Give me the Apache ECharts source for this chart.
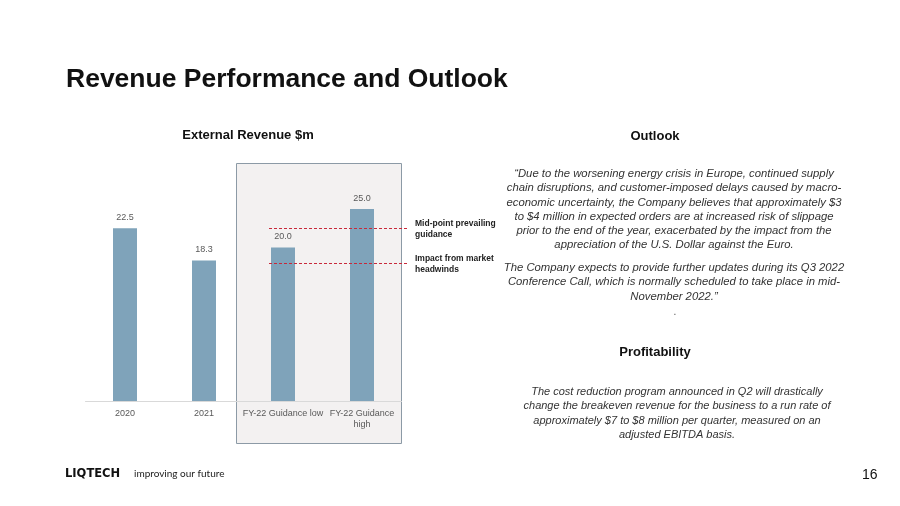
<!DOCTYPE html>
<html>
<head>
<meta charset="utf-8">
<script src="https://cdn.jsdelivr.net/npm/echarts@6/dist/echarts.min.js"></script>
<style>
  html, body { margin: 0; padding: 0; background: #fff; }
  #main { width: 900px; height: 506px; }
</style>
</head>
<body>
<div id="main"></div>
<script>
// chart data
var categories = ['2020', '2021', 'FY-22 Guidance low', 'FY-22 Guidance high']
var revenue = [22.5, 18.3, 20.0, 25.0]
// reference lines (midpoint guidance, after headwinds)
var refValues = [22.5, 18.0]
var refLabels = ['Mid-point prevailing\nguidance', 'Impact from market\nheadwinds']

var outlookText1 = [
  '\u201cDue to the worsening energy crisis in Europe, continued supply',
  'chain disruptions, and customer-imposed delays caused by macro-',
  'economic uncertainty, the Company believes that approximately $3',
  'to $4 million in expected orders are at increased risk of slippage',
  'prior to the end of the year, exacerbated by the impact from the',
  'appreciation of the U.S. Dollar against the Euro.'
]
var outlookText2 = [
  'The Company expects to provide further updates during its Q3 2022',
  'Conference Call, which is normally scheduled to take place in mid-',
  'November 2022.\u201d'
]
var profitText = [
  'The cost reduction program announced in Q2 will drastically',
  'change the breakeven revenue for the business to a run rate of',
  'approximately $7 to $8 million per quarter, measured on an',
  'adjusted EBITDA basis.'
]

var FONT = '"Liberation Sans", Arial, sans-serif'
var myChart = echarts.init(document.getElementById('main'))

var option = {
  backgroundColor: '#ffffff',
  animation: false,
  title: [
    {
      text: 'Revenue Performance and Outlook',
      left: 61, top: 61,
      textStyle: { fontFamily: FONT, fontSize: 26.5, fontWeight: 'bold', color: '#111' }
    }
  ],
  grid: { left: 85.5, right: 498.5, top: 170.6, bottom: 105 },
  xAxis: {
    type: 'category',
    data: categories,
    axisTick: { show: false },
    axisLine: { lineStyle: { color: '#d9d9d9', width: 1 } },
    axisLabel: {
      interval: 0, color: '#595959', fontFamily: FONT, fontSize: 9, margin: 7, lineHeight: 11,
      formatter: function (v) { return v === 'FY-22 Guidance high' ? 'FY-22 Guidance\nhigh' : v }
    }
  },
  yAxis: {
    type: 'value', min: 0, max: 30,
    show: false,
    splitLine: { show: false }
  },
  series: [{
    type: 'bar',
    data: revenue,
    barWidth: 24,
    itemStyle: { color: '#7fa3ba' },
    z: 5,
    label: {
      show: true, position: 'top', distance: 6,
      color: '#595959', fontFamily: FONT, fontSize: 9,
      formatter: function (p) { return p.value.toFixed(1) }
    }
  }]
}
myChart.setOption(option)

// overlay: shaded guidance box, reference lines, text blocks
var graphics = []
graphics.push({
  type: 'rect', z: -1,
  shape: { x: 236.5, y: 163.5, width: 165, height: 280 },
  style: { fill: '#f3f1f1', stroke: '#8c9aa6', lineWidth: 1 }
})
refValues.forEach(function (v, i) {
  var y = Math.round(myChart.convertToPixel({ yAxisIndex: 0 }, v)) + 0.5
  graphics.push({
    type: 'line', z: 10,
    shape: { x1: 269, y1: y, x2: 408, y2: y },
    style: { stroke: '#c8283a', lineWidth: 1, lineDash: [3, 2] }
  })
  graphics.push({
    type: 'text', z: 10,
    x: 415, y: y - 10,
    style: { text: refLabels[i], fontFamily: FONT, fontSize: 8.5, fontWeight: 'bold', fill: '#222', lineHeight: 11 }
  })
})
graphics.push({
  type: 'text', x: 248, y: 129,
  style: { text: 'External Revenue $m', align: 'center', fontFamily: FONT, fontSize: 13, fontWeight: 'bold', fill: '#111' }
})
graphics.push({
  type: 'text', x: 655, y: 130,
  style: { text: 'Outlook', align: 'center', fontFamily: FONT, fontSize: 13, fontWeight: 'bold', fill: '#111' }
})
graphics.push({
  type: 'text', x: 674, y: 167,
  style: { text: outlookText1.join('\n'), align: 'center', fontFamily: FONT, fontSize: 11.3, fontStyle: 'italic', fill: '#333', lineHeight: 14.2 }
})
graphics.push({
  type: 'text', x: 674, y: 261,
  style: { text: outlookText2.join('\n'), align: 'center', fontFamily: FONT, fontSize: 11.3, fontStyle: 'italic', fill: '#333', lineHeight: 14.2 }
})
graphics.push({
  type: 'text', x: 675, y: 307,
  style: { text: '.', align: 'center', fontFamily: FONT, fontSize: 10, fill: '#555' }
})
graphics.push({
  type: 'text', x: 655, y: 346,
  style: { text: 'Profitability', align: 'center', fontFamily: FONT, fontSize: 13, fontWeight: 'bold', fill: '#111' }
})
graphics.push({
  type: 'text', x: 677, y: 385,
  style: { text: profitText.join('\n'), align: 'center', fontFamily: FONT, fontSize: 11, fontStyle: 'italic', fill: '#333', lineHeight: 14.2 }
})
graphics.push({
  type: 'text', x: 65, y: 468,
  style: { text: 'LIQTECH', fontFamily: '"DejaVu Sans", sans-serif', fontSize: 11.5, fontWeight: 'bold', fill: '#111' }
})
graphics.push({
  type: 'text', x: 134, y: 469,
  style: { text: 'improving our future', fontFamily: 'Lato, sans-serif', fontSize: 10, fill: '#222' }
})
graphics.push({
  type: 'text', x: 862, y: 468,
  style: { text: '16', fontFamily: FONT, fontSize: 14, fill: '#111' }
})
myChart.setOption({ graphic: graphics })
</script>
</body>
</html>
